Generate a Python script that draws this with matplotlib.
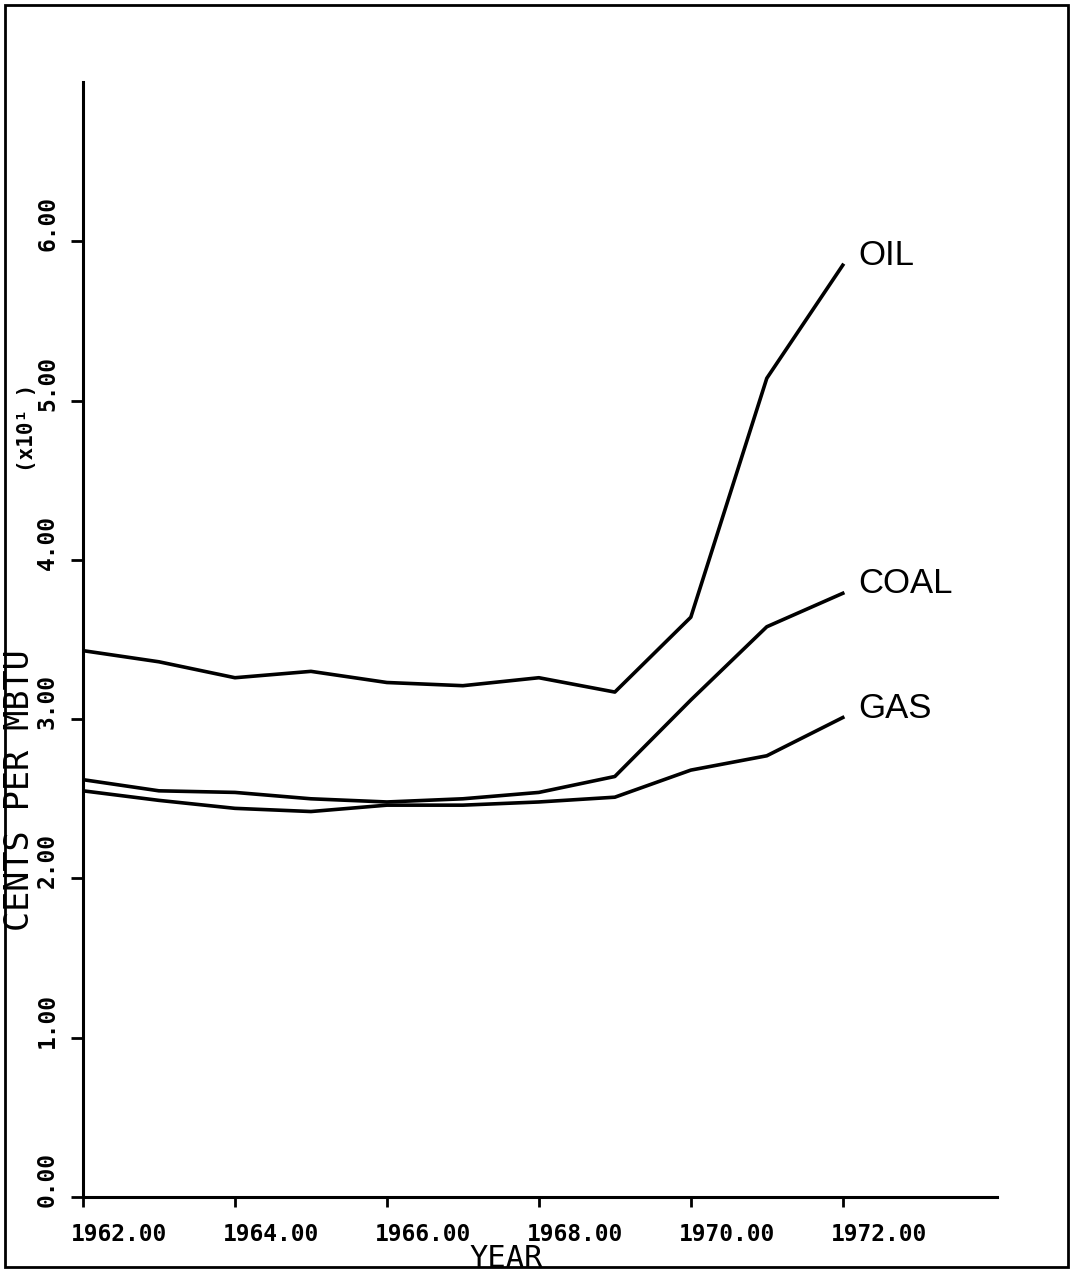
import matplotlib
matplotlib.use('Agg')
import matplotlib.pyplot as plt
from matplotlib import transforms
from matplotlib.patches import Rectangle

# valori (centesimi per MBTU, x10)
years = [1962, 1963, 1964, 1965, 1966, 1967, 1968, 1969, 1970, 1971, 1972]
oil = [3.43, 3.36, 3.26, 3.30, 3.23, 3.21, 3.26, 3.17, 3.64, 5.14, 5.85]
coal = [2.62, 2.55, 2.54, 2.50, 2.48, 2.50, 2.54, 2.64, 3.12, 3.58, 3.79]
gas = [2.55, 2.49, 2.44, 2.42, 2.46, 2.46, 2.48, 2.51, 2.68, 2.77, 3.01]
series_names = ['OIL', 'COAL', 'GAS']

xticks = [1962, 1964, 1966, 1968, 1970, 1972]
yticks = [0, 1, 2, 3, 4, 5, 6]

mono = 'DejaVu Sans Mono'

fig = plt.figure(figsize=(10.71, 12.77), dpi=100)
ax = fig.add_axes([83/1071, 80/1277, 914/1071, 1115/1277])
ax.set_xlim(1962, 1974.03)
ax.set_ylim(0, 7)

for s in ['top', 'right']:
    ax.spines[s].set_visible(False)
for s in ['left', 'bottom']:
    ax.spines[s].set_linewidth(2.2)

ax.set_xticks(xticks)
ax.set_yticks(yticks)
ax.tick_params(axis='x', direction='out', length=7, width=2, labelbottom=False)
ax.tick_params(axis='y', direction='out', length=9, width=2, labelleft=False)

# etichette dei tick stile plotter
off_x = transforms.ScaledTranslation(-12/100, -26/100, fig.dpi_scale_trans)
for t in xticks:
    ax.text(t, 0, '%.2f' % t, transform=ax.get_xaxis_transform() + off_x,
            ha='left', va='top', fontsize=16.5, family=mono, fontweight='bold')
off_y = transforms.ScaledTranslation(-24/100, -10/100, fig.dpi_scale_trans)
for t in yticks:
    ax.text(0, t, '%.2f' % t, transform=ax.get_yaxis_transform() + off_y,
            ha='right', va='bottom', rotation=90, fontsize=16.5, family=mono,
            fontweight='bold')

for vals in [oil, coal, gas]:
    ax.plot(years, vals, color='black', lw=2.6, solid_joinstyle='round')

for name, vals in zip(series_names, [oil, coal, gas]):
    ax.text(1972.2, vals[-1], name, ha='left', va='baseline', fontsize=25,
            family='Liberation Sans')

ax.set_xlabel('YEAR', family=mono, fontsize=22)
ax.xaxis.set_label_coords((506-83)/914, -(1244-1197)/1115)
ax.set_ylabel('CENTS PER MBTU', family=mono, fontsize=24)
ax.yaxis.set_label_coords((36-83)/914, (1197-790)/1115)

fig.text(37/1071, 1-428/1277, '(x10¹ )', rotation=90, ha='right', va='center',
         family=mono, fontsize=15, fontweight='bold')

fig.add_artist(Rectangle((5/1071, 10/1277), 1063/1071, 1262/1277,
                         transform=fig.transFigure, fill=False, lw=2, ec='black'))

fig.savefig('out.png', dpi=100)
